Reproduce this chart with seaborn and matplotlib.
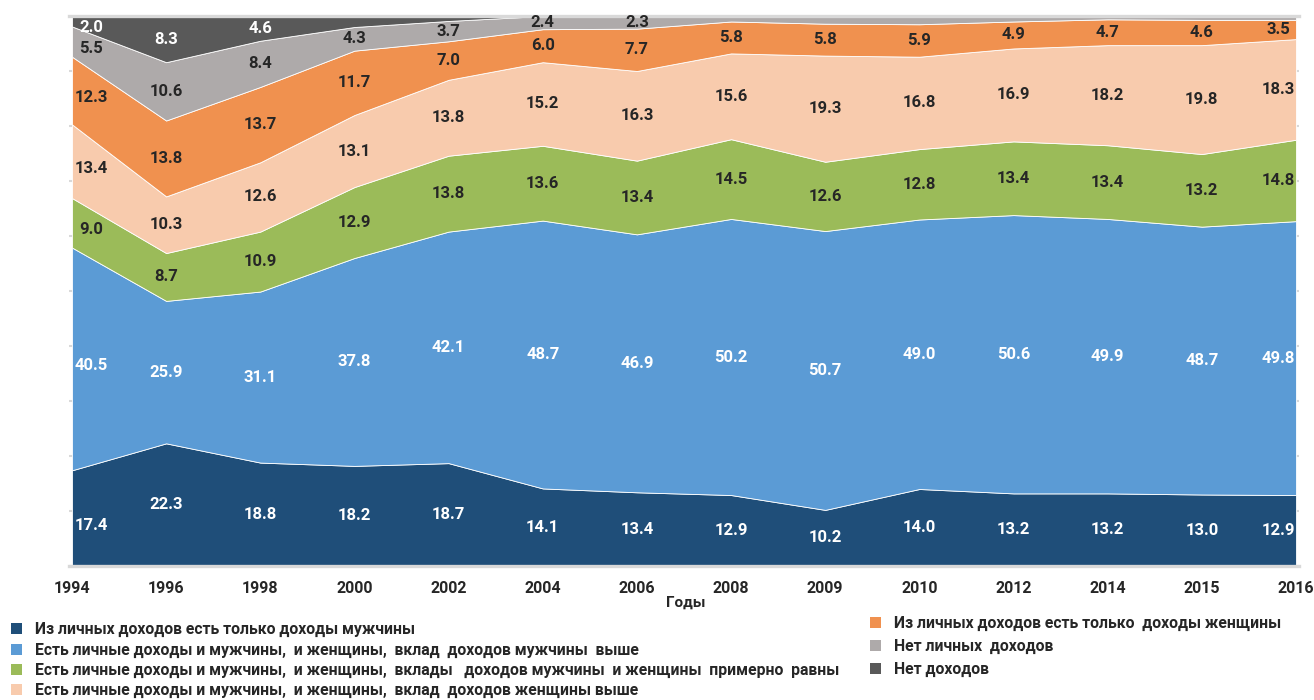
import numpy as np
import matplotlib
matplotlib.use('Agg')
import matplotlib.pyplot as plt
from matplotlib.patches import Patch
import seaborn as sns

years = ['1994', '1996', '1998', '2000', '2002', '2004', '2006',
         '2008', '2009', '2010', '2012', '2014', '2015', '2016']

men_only = [17.4, 22.3, 18.8, 18.2, 18.7, 14.1, 13.4, 12.9, 10.2, 14.0, 13.2, 13.2, 13.0, 12.9]
men_higher = [40.5, 25.9, 31.1, 37.8, 42.1, 48.7, 46.9, 50.2, 50.7, 49.0, 50.6, 49.9, 48.7, 49.8]
equal = [9.0, 8.7, 10.9, 12.9, 13.8, 13.6, 13.4, 14.5, 12.6, 12.8, 13.4, 13.4, 13.2, 14.8]
women_higher = [13.4, 10.3, 12.6, 13.1, 13.8, 15.2, 16.3, 15.6, 19.3, 16.8, 16.9, 18.2, 19.8, 18.3]
women_only = [12.3, 13.8, 13.7, 11.7, 7.0, 6.0, 7.7, 5.8, 5.8, 5.9, 4.9, 4.7, 4.6, 3.5]
no_personal = [5.5, 10.6, 8.4, 4.3, 3.7, 2.4, 2.3, 1.0, 1.4, 1.5, 1.0, 0.6, 0.7, 0.7]
no_income = [2.0, 8.3, 4.6, 2.0, 0.9, 0.0, 0.0, 0.0, 0.0, 0.0, 0.0, 0.0, 0.0, 0.0]

series_names = [
    'Из личных доходов есть только доходы мужчины',
    'Есть личные доходы и мужчины,  и женщины,  вклад  доходов мужчины  выше',
    'Есть личные доходы и мужчины,  и женщины,  вклады   доходов мужчины  и женщины  примерно  равны',
    'Есть личные доходы и мужчины,  и женщины,  вклад  доходов женщины выше',
    'Из личных доходов есть только  доходы женщины',
    'Нет личных  доходов',
    'Нет доходов',
]
colors = ['#1F4E79', '#5B9BD5', '#9BBB59', '#F8CBAD', '#F0914F', '#AEAAAA', '#595959']
label_colors = ['white', 'white', '#262626', '#262626', '#262626', '#262626', 'white']
# how many leading points carry a data label (gray bands get thin later on)
labeled_points = [14, 14, 14, 14, 14, 7, 3]

sns.set_style("white")
plt.rcParams['font.family'] = ['Roboto', 'DejaVu Sans']

values = np.array([men_only, men_higher, equal, women_higher, women_only, no_personal, no_income])
x = np.arange(len(years))

fig = plt.figure(figsize=(13.14, 7.0), dpi=100)
pad = 0.03
px_per_unit = (1296 - 72) / 13
left_px = 72 - pad * px_per_unit
width_px = (13 + 2 * pad) * px_per_unit
ax = fig.add_axes([left_px / 1314, 1 - 566 / 700, width_px / 1314, 550 / 700])

ax.stackplot(x, values, colors=colors, edgecolor='white', linewidth=0.6, zorder=2)

ax.set_xlim(-pad, 13 + pad)
ax.set_ylim(0, 100)
ax.set_yticks(np.arange(0, 101, 10))
ax.yaxis.grid(True, color='#D9D9D9', linewidth=1.5, zorder=0)
ax.set_axisbelow(True)
ax.tick_params(axis='y', left=False, labelleft=False)

ax.set_xticks(x)
ax.set_xticklabels(years, fontsize=11.5, fontweight='bold', color='#262626')
ax.tick_params(axis='x', length=4, width=2, color='#D9D9D9', pad=7)

for side in ['left', 'right']:
    ax.spines[side].set_visible(False)
ax.spines['top'].set_color('#D9D9D9')
ax.spines['top'].set_linewidth(2.4)
ax.spines['bottom'].set_color('#D9D9D9')
ax.spines['bottom'].set_linewidth(2.4)

# data labels in the middle of every band
cum = np.cumsum(values, axis=0)
for s in range(values.shape[0]):
    for i in range(labeled_points[s]):
        mid = cum[s, i] - values[s, i] / 2
        dx, dy = 0, 0
        if i == 0:
            dx, dy = 14, -5
        elif i == len(years) - 1:
            dx = -13
        ax.annotate(f'{values[s, i]:.1f}', (x[i], mid), xytext=(dx, dy),
                    textcoords='offset points', ha='center', va='center',
                    fontsize=12, fontweight='bold', color=label_colors[s], zorder=5)

fig.text(686 / 1314, 1 - 603 / 700, 'Годы', ha='center', va='center',
         fontsize=11, fontweight='bold', color='#262626')

handles = [Patch(facecolor=c, edgecolor='none') for c in colors]
leg1 = fig.legend(handles[:4], series_names[:4], loc='upper left',
                  bbox_to_anchor=(5 / 1314, 1 - 616 / 700), frameon=False,
                  fontsize=11.3, handlelength=0.7, handleheight=0.7,
                  handletextpad=0.8, labelspacing=0.33, borderaxespad=0)
for t in leg1.get_texts():
    t.set_fontweight('bold')
    t.set_color('#262626')
leg2 = fig.legend(handles[4:], series_names[4:], loc='upper left',
                  bbox_to_anchor=(864 / 1314, 1 - 610 / 700), frameon=False,
                  fontsize=11.3, handlelength=0.7, handleheight=0.7,
                  handletextpad=0.8, labelspacing=0.5, borderaxespad=0)
for t in leg2.get_texts():
    t.set_fontweight('bold')
    t.set_color('#262626')

fig.savefig('out.png', dpi=100)
